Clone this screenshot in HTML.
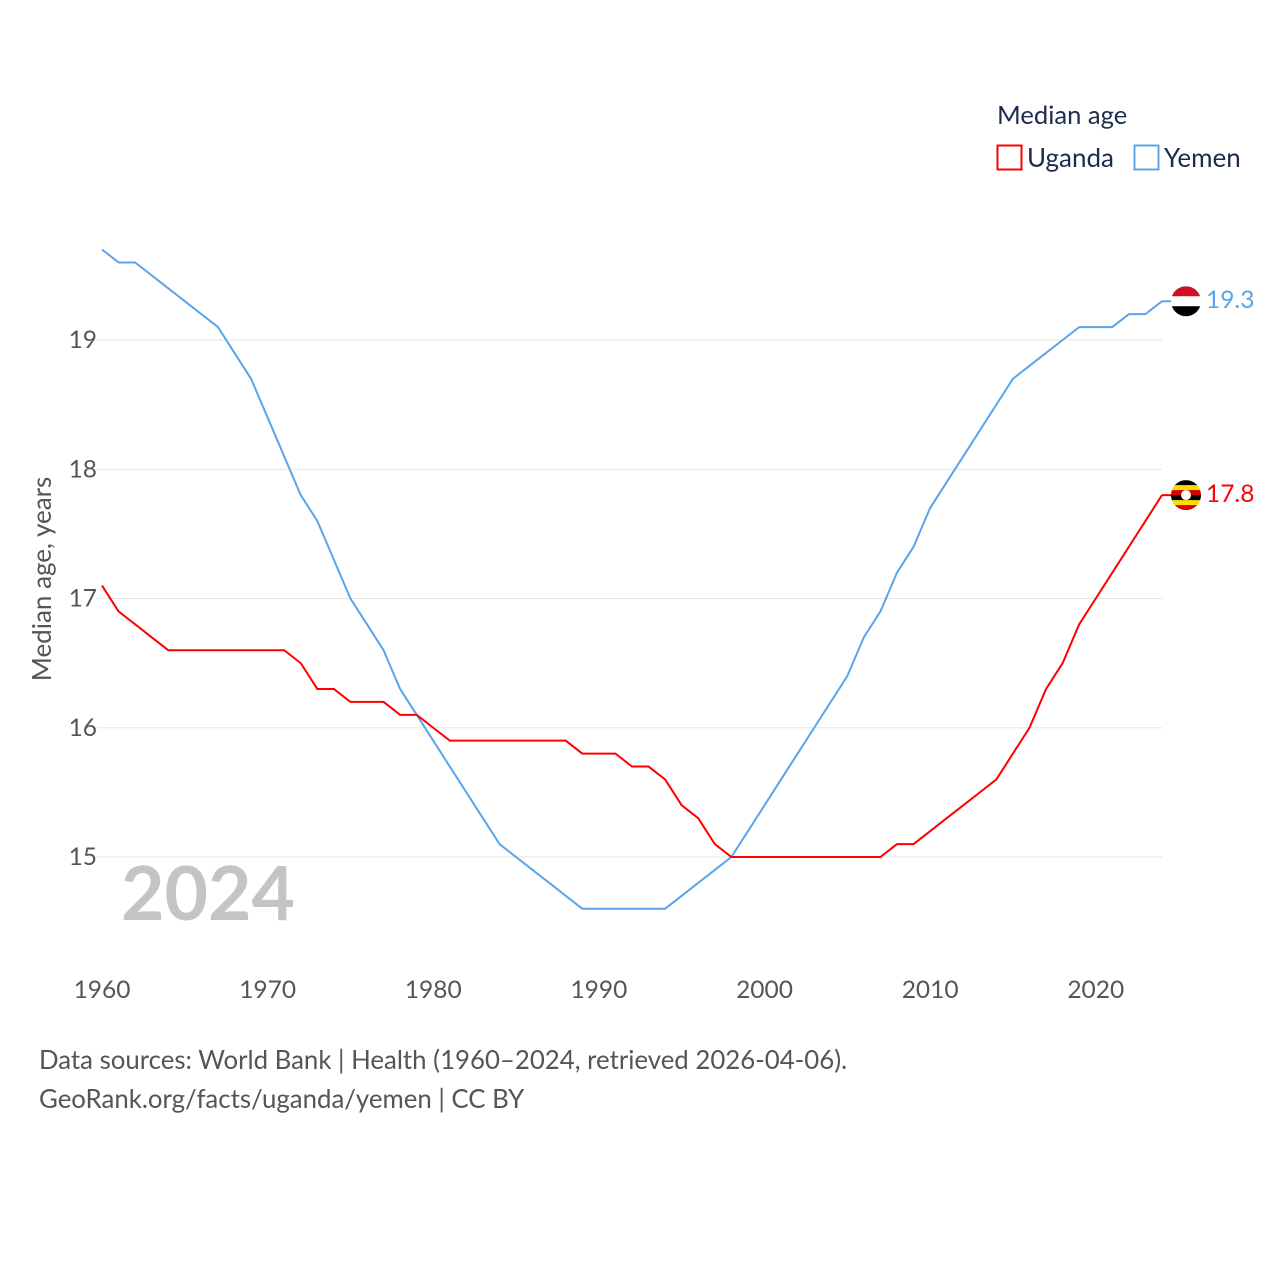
<!DOCTYPE html>
<html><head><meta charset="utf-8"><style>
body{margin:0;background:#fff;font-family:"Liberation Sans",sans-serif;}
svg text{font-family:"Lato","Liberation Sans",sans-serif;}
</style></head><body>
<svg width="1280" height="1280" id="chart">
<g id="grid"></g>
<g id="ylabels"></g>
<g id="xlabels"></g>
<text x="121" y="920" font-size="75" font-weight="bold" fill="#c4c4c4">2024</text>
<text transform="translate(51,579) rotate(-90)" text-anchor="middle" font-size="26" fill="#555">Median age, years</text>
<g id="lines"></g>
<text x="997" y="124" font-size="25.6" fill="#1c2c4c">Median age</text>
<g><rect x="997.5" y="145.5" width="24" height="24" fill="none" stroke="#f00" stroke-width="2"/><text x="1027" y="167" font-size="26" fill="#1c2c4c">Uganda</text></g>
<g><rect x="1134.5" y="145.5" width="24" height="24" fill="none" stroke="#5aa5ea" stroke-width="2"/><text x="1164" y="167" font-size="26" fill="#1c2c4c">Yemen</text></g>
<g id="ends"></g>
<text x="39" y="1069" font-size="25.8" fill="#555">Data sources: World Bank | Health (1960–2024, retrieved 2026-04-06).</text>
<text x="39" y="1108" font-size="25.8" fill="#555">GeoRank.org/facts/uganda/yemen | CC BY</text>
</svg>
<script>
const years=[];for(let y=1960;y<=2024;y++)years.push(y);
const yemen=[19.7,19.6,19.6,19.5,19.4,19.3,19.2,19.1,18.9,18.7,18.4,18.1,17.8,17.6,17.3,17.0,16.8,16.6,16.3,16.1,15.9,15.7,15.5,15.3,15.1,15.0,14.9,14.8,14.7,14.6,14.6,14.6,14.6,14.6,14.6,14.7,14.8,14.9,15.0,15.2,15.4,15.6,15.8,16.0,16.2,16.4,16.7,16.9,17.2,17.4,17.7,17.9,18.1,18.3,18.5,18.7,18.8,18.9,19.0,19.1,19.1,19.1,19.2,19.2,19.3];
const uganda=[17.1,16.9,16.8,16.7,16.6,16.6,16.6,16.6,16.6,16.6,16.6,16.6,16.5,16.3,16.3,16.2,16.2,16.2,16.1,16.1,16.0,15.9,15.9,15.9,15.9,15.9,15.9,15.9,15.9,15.8,15.8,15.8,15.7,15.7,15.6,15.4,15.3,15.1,15.0,15.0,15.0,15.0,15.0,15.0,15.0,15.0,15.0,15.0,15.1,15.1,15.2,15.3,15.4,15.5,15.6,15.8,16.0,16.3,16.5,16.8,17.0,17.2,17.4,17.6,17.8];
const yTicks=[15,16,17,18,19];
const xTicks=[1960,1970,1980,1990,2000,2010,2020];
const X=y=>102+(y-1960)*(1060/64);
const Y=v=>857-(v-15)*129.25;
const NS="http://www.w3.org/2000/svg";
function mk(t,a,p){const e=document.createElementNS(NS,t);for(const k in a)e.setAttribute(k,a[k]);p.appendChild(e);return e;}
const grid=document.getElementById('grid'),yl=document.getElementById('ylabels'),xl=document.getElementById('xlabels');
yTicks.forEach(v=>{
 const l=mk('line',{x1:97,x2:1162,y1:Y(v),y2:Y(v),stroke:'#e6e6e6','stroke-width':1},grid);
 
 
 const t=mk('text',{x:97,y:Y(v)+8,'text-anchor':'end','font-size':24.5,fill:'#555'},yl);t.textContent=v;
 
 
});
xTicks.forEach(v=>{
 const t=mk('text',{x:X(v),y:998,'text-anchor':'middle','font-size':24.5,fill:'#555'},xl);t.textContent=v;
 
 
});
const lines=document.getElementById('lines');
[[yemen,'#5aa5ea','yemen-line'],[uganda,'#f00','uganda-line']].forEach(([d,c,n])=>{
 const p=mk('polyline',{points:d.map((v,i)=>X(years[i])+','+Y(v)).join(' '),fill:'none',stroke:c,'stroke-width':2},lines);
 
 
});
const ends=document.getElementById('ends');
function endLabel(d,c,n,flag){
 const v=d[d.length-1],y=Y(v),cx=1186;
 const g=mk('g',{},ends);
 
 
 mk('line',{x1:1162,x2:cx,y1:y,y2:y,stroke:c,'stroke-width':2},g);
 const cp=mk('clipPath',{id:'c'+n},g);mk('circle',{cx:cx,cy:y,r:15},cp);
 const fg=mk('g',{'clip-path':'url(#c'+n+')'},g);
 flag.forEach((col,i)=>mk('rect',{x:cx-15,y:y-15+i*30/flag.length,width:30,height:30/flag.length+0.5,fill:col},fg));
 if(flag.length==6)mk('circle',{cx:cx,cy:y,r:5,fill:'#fff'},fg);
 const t=mk('text',{x:1206,y:y+7,'font-size':24.5,fill:c},g);t.textContent=v.toFixed(1);
}
endLabel(yemen,'#5aa5ea','yemen-end-label',['#ce1126','#fff','#000']);
endLabel(uganda,'#f00','uganda-end-label',['#000','#fcdc04','#d90000','#000','#fcdc04','#d90000']);
</script>
</body></html>
